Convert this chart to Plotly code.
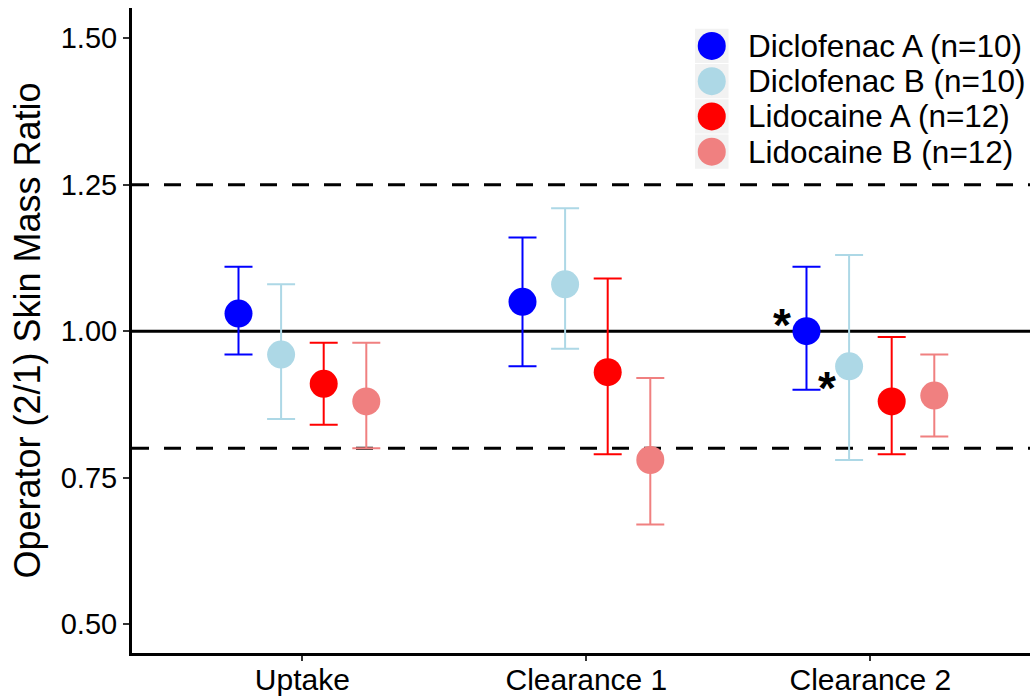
import plotly.graph_objects as go

# ---------------- data ----------------
categories = ["Uptake", "Clearance 1", "Clearance 2"]
series_names = ["Diclofenac A (n=10)", "Diclofenac B (n=10)", "Lidocaine A (n=12)", "Lidocaine B (n=12)"]
series_colors = ["#0000FF", "#ADD8E6", "#FF0000", "#F08080"]

diclo_a_mean = [1.03, 1.05, 1.00]
diclo_a_low = [0.96, 0.94, 0.90]
diclo_a_high = [1.11, 1.16, 1.11]

diclo_b_mean = [0.96, 1.08, 0.94]
diclo_b_low = [0.85, 0.97, 0.78]
diclo_b_high = [1.08, 1.21, 1.13]

lido_a_mean = [0.91, 0.93, 0.88]
lido_a_low = [0.84, 0.79, 0.79]
lido_a_high = [0.98, 1.09, 0.99]

lido_b_mean = [0.88, 0.78, 0.89]
lido_b_low = [0.80, 0.67, 0.82]
lido_b_high = [0.98, 0.92, 0.96]

y_tick_values = [0.50, 0.75, 1.00, 1.25, 1.50]
y_tick_labels = ["0.50", "0.75", "1.00", "1.25", "1.50"]
reference_solid = 1.00
reference_dashed = [1.25, 0.80]
y_title = "Operator (2/1) Skin Mass Ratio"

# significance markers: (category index, series index)
star_points = [(2, 0), (2, 1)]

# ---------------- figure ----------------
W, H = 1030, 699
ML, MR, MT, MB = 132, 0, 8, 46
plot_w = W - ML - MR
plot_h = H - MT - MB
FONT = "Liberation Sans, Arial, sans-serif"

def px_x(px):
    return (px - ML) / plot_w

def px_y(py):
    return (H - MB - py) / plot_h

means = [diclo_a_mean, diclo_b_mean, lido_a_mean, lido_b_mean]
lows = [diclo_a_low, diclo_b_low, lido_a_low, lido_b_low]
highs = [diclo_a_high, diclo_b_high, lido_a_high, lido_b_high]

dodge = 0.15
fig = go.Figure()
n = len(series_names)
for i, (name, col, m, lo, hi) in enumerate(zip(series_names, series_colors, means, lows, highs)):
    off = (i - (n - 1) / 2) * dodge
    xs = [k + 1 + off for k in range(len(categories))]
    fig.add_trace(go.Scatter(
        x=xs, y=m, name=name, mode="markers",
        marker=dict(color=col, size=28, line=dict(width=0)),
        error_y=dict(type="data", symmetric=False,
                     array=[h - v for h, v in zip(hi, m)],
                     arrayminus=[v - l for v, l in zip(m, lo)],
                     color=col, thickness=2, width=14),
        showlegend=False,
    ))

shapes = []
shapes.append(dict(type="line", xref="paper", x0=0, x1=1, yref="y",
                   y0=reference_solid, y1=reference_solid,
                   line=dict(color="black", width=3), layer="below"))
for yv in reference_dashed:
    shapes.append(dict(type="line", xref="paper", x0=0, x1=1, yref="y",
                       y0=yv, y1=yv,
                       line=dict(color="black", width=3, dash="17px,15px"), layer="below"))

annotations = []
# asterisks (placed to the left of the point, slightly above/below)
star_dx = [-0.088, -0.078]
star_dy = [0.011, -0.037]
for k, (ci, si) in enumerate(star_points):
    off = (si - (n - 1) / 2) * dodge
    annotations.append(dict(x=ci + 1 + off + star_dx[k], y=means[si][ci] + star_dy[k],
                            xref="x", yref="y", text="<b>*</b>",
                            showarrow=False, font=dict(family=FONT, size=46, color="black"),
                            xanchor="center", yanchor="middle"))

# custom legend
key_left, key_right = 695, 728.5
key_top, row_h = 28.3, 35.25
for i, (name, col) in enumerate(zip(series_names, series_colors)):
    top = key_top + i * row_h
    cy = top + row_h / 2
    shapes.append(dict(type="rect", xref="paper", yref="paper",
                       x0=px_x(key_left), x1=px_x(key_right),
                       y0=px_y(top + 0.5), y1=px_y(top + row_h - 0.5),
                       fillcolor="#F2F2F2", line=dict(width=0), layer="above"))
    shapes.append(dict(type="circle", xref="paper", yref="paper",
                       xsizemode="pixel", ysizemode="pixel",
                       xanchor=px_x((key_left + key_right) / 2), yanchor=px_y(cy),
                       x0=-14, x1=14, y0=-14, y1=14,
                       fillcolor=col, line=dict(width=0), layer="above"))
    annotations.append(dict(x=px_x(746), y=px_y(cy), xref="paper", yref="paper",
                            text=name, showarrow=False, xanchor="left", yanchor="middle",
                            font=dict(family=FONT, size=31.5, color="black")))

fig.update_layout(
    width=W, height=H,
    margin=dict(l=ML, r=MR, t=MT, b=MB, autoexpand=False),
    paper_bgcolor="white", plot_bgcolor="white",
    font=dict(family=FONT, color="black"),
    showlegend=False,
    shapes=shapes,
    annotations=annotations,
    xaxis=dict(range=[0.4, 3.562], tickvals=[1, 2, 3], ticktext=categories,
               showgrid=False, zeroline=False, showline=True, linecolor="black", linewidth=3,
               ticks="outside", ticklen=5, tickwidth=1.5, tickcolor="#333333",
               ticklabelstandoff=-7,
               tickfont=dict(family=FONT, size=30, color="black")),
    yaxis=dict(range=[0.4505, 1.5517], tickvals=y_tick_values, ticktext=y_tick_labels,
               showgrid=False, zeroline=False, showline=True, linecolor="black", linewidth=3,
               ticks="outside", ticklen=6, tickwidth=1.5, tickcolor="#333333",
               tickfont=dict(family=FONT, size=29, color="black"),
               title=dict(text=y_title, font=dict(family=FONT, size=36, color="black"), standoff=10)),
)

fig.write_html("out.html", config={"displayModeBar": False},
               post_script="document.body.style.margin='0';document.body.style.overflow='hidden';")
